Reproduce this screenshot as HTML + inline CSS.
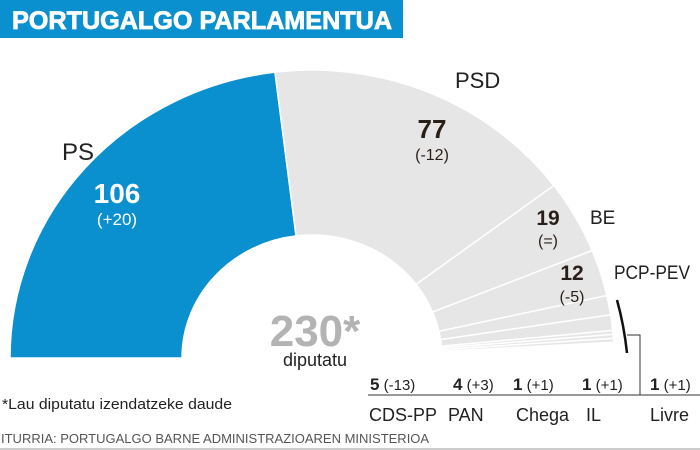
<!DOCTYPE html>
<html><head><meta charset="utf-8"><style>
html,body{margin:0;padding:0;background:#fff;width:700px;height:450px;overflow:hidden}
svg{display:block}
text{font-family:"Liberation Sans Narrow","Liberation Sans",sans-serif}
</style></head><body>
<svg id="s" width="700" height="450" viewBox="0 0 700 450">
<rect x="0" y="0" width="403" height="38" fill="#0a8fcf"/>
<text x="12" y="29" font-weight="bold" font-size="25" fill="#fff" stroke="#fff" stroke-width="0.8" textLength="380" lengthAdjust="spacingAndGlyphs" style="font-family:'Liberation Sans',sans-serif">PORTUGALGO PARLAMENTUA</text>
<g id="w"></g>
<text x="62" y="160" font-size="24" fill="#222">PS</text>
<text x="117" y="203" font-size="28" font-weight="bold" fill="#fff" text-anchor="middle">106</text>
<text x="117" y="225" font-size="17" fill="#fff" text-anchor="middle">(+20)</text>
<text x="455" y="88" font-size="22" fill="#222">PSD</text>
<text x="432" y="138" font-size="26" font-weight="bold" fill="#2a1f18" text-anchor="middle">77</text>
<text x="432" y="160" font-size="16" fill="#2a1f18" text-anchor="middle">(-12)</text>
<text x="590" y="224" font-size="19" fill="#222">BE</text>
<text x="548" y="225" font-size="21" font-weight="bold" fill="#2a1f18" text-anchor="middle">19</text>
<text x="548" y="246" font-size="16" fill="#2a1f18" text-anchor="middle">(=)</text>
<text x="614" y="279" font-size="19" fill="#222" textLength="76" lengthAdjust="spacingAndGlyphs">PCP-PEV</text>
<text x="572" y="280" font-size="21" font-weight="bold" fill="#2a1f18" text-anchor="middle">12</text>
<text x="572" y="302" font-size="16" fill="#2a1f18" text-anchor="middle">(-5)</text>
<text x="315" y="346" font-size="44" font-weight="bold" fill="#b3b3b3" text-anchor="middle">230*</text>
<text x="315" y="366" font-size="18" fill="#222" text-anchor="middle">diputatu</text>
<path d="M617 300 Q624 325 627 353" stroke="#111" stroke-width="2.5" fill="none"/>
<path d="M627 335 H640 V395" stroke="#333" stroke-width="1" fill="none"/>
<line x1="368" y1="395" x2="700" y2="395" stroke="#333" stroke-width="1"/>
<g font-size="15" fill="#222">
<text x="370" y="390"><tspan font-weight="bold" font-size="17">5</tspan> (-13)</text>
<text x="453" y="390"><tspan font-weight="bold" font-size="17">4</tspan> (+3)</text>
<text x="513" y="390"><tspan font-weight="bold" font-size="17">1</tspan> (+1)</text>
<text x="582" y="390"><tspan font-weight="bold" font-size="17">1</tspan> (+1)</text>
<text x="650" y="390"><tspan font-weight="bold" font-size="17">1</tspan> (+1)</text>
</g>
<g font-size="18" fill="#222">
<text x="369" y="421">CDS-PP</text>
<text x="448" y="421">PAN</text>
<text x="516" y="421">Chega</text>
<text x="586" y="421">IL</text>
<text x="650" y="421">Livre</text>
</g>
<text x="2" y="409" font-size="15" fill="#222" textLength="230" lengthAdjust="spacingAndGlyphs">*Lau diputatu izendatzeke daude</text>
<text x="1" y="443" font-size="13" fill="#555">ITURRIA: PORTUGALGO BARNE ADMINISTRAZIOAREN MINISTERIOA</text>
<line x1="0" y1="449" x2="700" y2="449" stroke="#999" stroke-width="1"/>
</svg>
<script>
var cx=312,cy=358,Rx=302,Ry=288,rx=130,ry=123;
var seats=[106,77,19,12,5,4,1,1,1];
function pt(a,X,Y){return [cx+X*Math.cos(a),cy-Y*Math.sin(a)];}
var g=document.getElementById('w'),cum=0,h='';
for(var i=0;i<seats.length;i++){
 var a0=Math.PI*(1-cum/230);cum+=seats[i];var a1=Math.PI*(1-cum/230);
 var p0=pt(a0,Rx,Ry),p1=pt(a1,Rx,Ry),q1=pt(a1,rx,ry),q0=pt(a0,rx,ry);
 var f=i==0?'#0a8fcf':'#e6e6e6';
 h+='<path d="M'+p0+' A'+Rx+' '+Ry+' 0 0 1 '+p1+' L'+q1+' A'+rx+' '+ry+' 0 0 0 '+q0+' Z" fill="'+f+'" stroke="#fff" stroke-width="1.5"/>';
}
g.innerHTML=h;
</script>
</body></html>
